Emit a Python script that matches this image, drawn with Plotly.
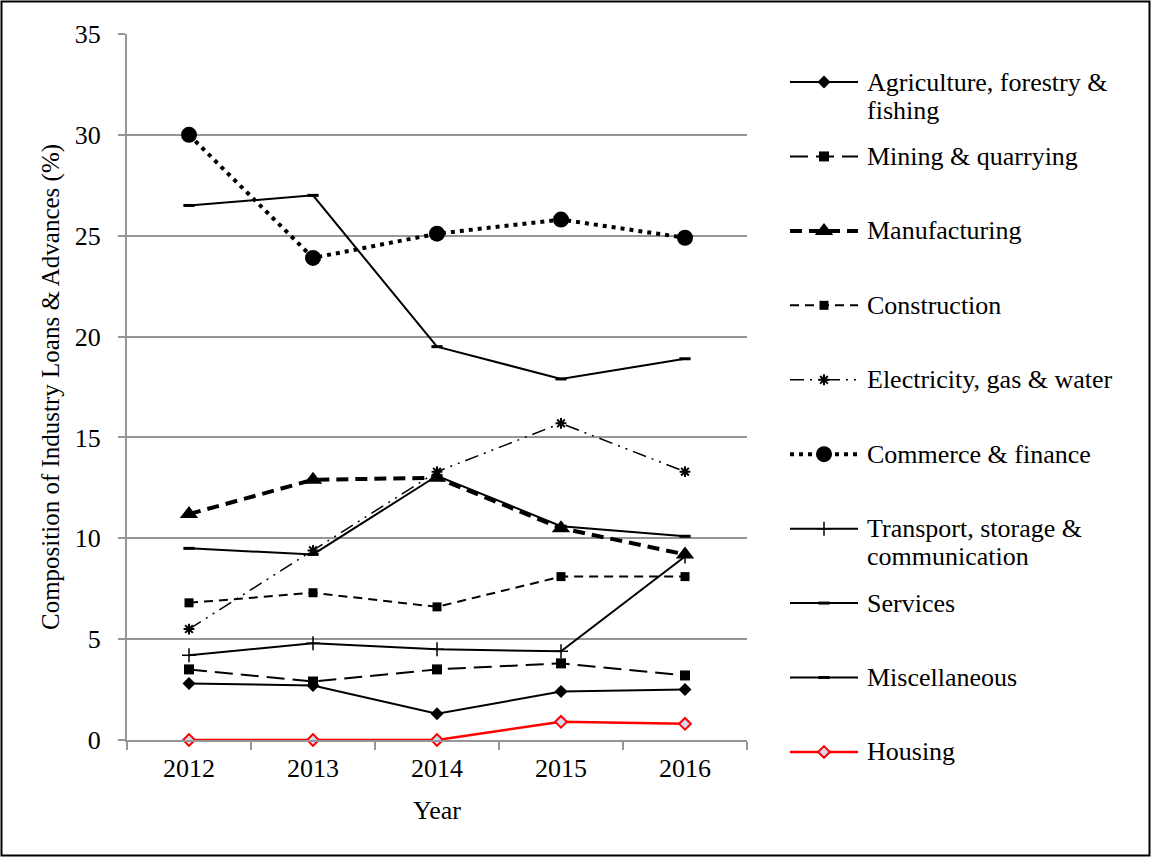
import plotly.graph_objects as go

# ---- data -------------------------------------------------------------
years = ["2012", "2013", "2014", "2015", "2016"]

agriculture = [2.8, 2.7, 1.3, 2.4, 2.5]
mining = [3.5, 2.9, 3.5, 3.8, 3.2]
manufacturing = [11.2, 12.9, 13.0, 10.5, 9.2]
construction = [6.8, 7.3, 6.6, 8.1, 8.1]
electricity = [5.5, 9.4, 13.3, 15.7, 13.3]
commerce = [30.0, 23.9, 25.1, 25.8, 24.9]
transport = [4.2, 4.8, 4.5, 4.4, 9.1]
services = [26.5, 27.0, 19.5, 17.9, 18.9]
miscellaneous = [9.5, 9.2, 13.1, 10.6, 10.1]
housing = [0.0, 0.0, 0.0, 0.9, 0.8]

series_names = [
    "Agriculture, forestry &<br>fishing",
    "Mining & quarrying",
    "Manufacturing",
    "Construction",
    "Electricity, gas & water",
    "Commerce & finance",
    "Transport, storage &<br>communication",
    "Services",
    "Miscellaneous",
    "Housing",
]
series_values = [agriculture, mining, manufacturing, construction, electricity,
                 commerce, transport, services, miscellaneous, housing]

y_ticks = [0, 5, 10, 15, 20, 25, 30, 35]

# ---- styles -----------------------------------------------------------
BLACK = "#000000"
RED = "#ff0000"
styles = [
    dict(line=dict(color=BLACK, width=2), marker=dict(symbol="diamond", size=10, color=BLACK)),
    dict(line=dict(color=BLACK, width=2, dash="18px,8px"), marker=dict(symbol="square", size=10, color=BLACK)),
    dict(line=dict(color=BLACK, width=4, dash="12px,7px"), marker=dict(symbol="triangle-up", size=16, color=BLACK)),
    dict(line=dict(color=BLACK, width=2, dash="9px,6px"), marker=dict(symbol="square", size=9, color=BLACK)),
    dict(line=dict(color=BLACK, width=1.5, dash="14px,6px,2px,6px,2px,6px"),
         marker=dict(symbol="asterisk-open", size=9, color=BLACK, line=dict(color=BLACK, width=2))),
    dict(line=dict(color=BLACK, width=4, dash="4px,5px"), marker=dict(symbol="circle", size=16, color=BLACK)),
    dict(line=dict(color=BLACK, width=2),
         marker=dict(symbol="cross-thin-open", size=10, color=BLACK, line=dict(color=BLACK, width=1.5))),
    dict(line=dict(color=BLACK, width=2),
         marker=dict(symbol="line-ew-open", size=8, color=BLACK, line=dict(color=BLACK, width=3))),
    dict(line=dict(color=BLACK, width=2),
         marker=dict(symbol="line-ew-open", size=8, color=BLACK, line=dict(color=BLACK, width=3))),
    dict(line=dict(color=RED, width=2.5),
         marker=dict(symbol="diamond", size=9, color="#d8d8f0", line=dict(color=RED, width=2))),
]

FONT = "Liberation Serif, Times New Roman, serif"
GRID = "#969696"
W, H = 1151, 857

fig = go.Figure()

# ---- data series ------------------------------------------------------
for name, vals, st in zip(series_names, series_values, styles):
    fig.add_trace(go.Scatter(
        x=years, y=vals, mode="lines+markers", name=name.replace("<br>", " "),
        line=st["line"], marker=st["marker"], cliponaxis=False, showlegend=False,
        xaxis="x", yaxis="y",
    ))

# ---- legend (samples drawn on a helper axis, one slot per series) -------
for i, (name, st) in enumerate(zip(series_names, styles)):
    fig.add_trace(go.Scatter(
        x=[0, 1], y=[i, i], mode="lines", line=st["line"], showlegend=False,
        hoverinfo="skip", xaxis="x2", yaxis="y2", cliponaxis=False,
    ))
    fig.add_trace(go.Scatter(
        x=[0.5], y=[i], mode="markers", marker=st["marker"], showlegend=False,
        hoverinfo="skip", xaxis="x2", yaxis="y2", cliponaxis=False,
    ))
    for k, line_text in enumerate(name.split("<br>")):
        fig.add_annotation(
            x=1, y=i, xref="x2", yref="y2", text=line_text, showarrow=False,
            xanchor="left", yanchor="middle", xshift=7, yshift=-28 * k,
            font=dict(family=FONT, size=26, color=BLACK),
        )

# ---- axis titles --------------------------------------------------------
fig.add_annotation(
    x=51 / W, y=1 - 387 / H, xref="paper", yref="paper",
    text="Composition of Industry Loans & Advances (%)", textangle=-90,
    showarrow=False, xanchor="center", yanchor="middle",
    font=dict(family=FONT, size=25, color=BLACK),
)
fig.add_annotation(
    x=437 / W, y=1 - 810 / H, xref="paper", yref="paper", text="Year",
    showarrow=False, xanchor="center", yanchor="middle",
    font=dict(family=FONT, size=26, color=BLACK),
)

# ---- outer frame ----------------------------------------------------------
fig.add_shape(
    type="rect", xref="paper", yref="paper",
    x0=1.5 / W, x1=1 - 1.5 / W, y0=1.5 / H, y1=1 - 1.5 / H,
    line=dict(color=BLACK, width=2), fillcolor="rgba(0,0,0,0)", layer="below",
)

legend_top, legend_step = 82, 74.44

fig.update_layout(
    width=W, height=H,
    margin=dict(l=0, r=0, t=0, b=0, pad=0, autoexpand=False),
    paper_bgcolor="white", plot_bgcolor="white",
    font=dict(family=FONT, color=BLACK),
    xaxis=dict(
        domain=[127 / W, 747 / W], type="category", range=[-0.5, 4.5],
        tickson="boundaries", ticks="outside", ticklen=8, tickwidth=2, tickcolor=GRID,
        showline=True, linecolor=GRID, linewidth=2, showgrid=False, zeroline=False,
        tickfont=dict(family=FONT, size=26, color=BLACK), ticklabelstandoff=4,
        anchor="y", automargin=False,
    ),
    yaxis=dict(
        domain=[1 - 740 / H, 1 - 34 / H], range=[0, 35], tickvals=y_ticks,
        ticks="outside", ticklen=7, tickwidth=2, tickcolor=GRID,
        showline=True, linecolor=GRID, linewidth=2,
        showgrid=True, gridcolor=GRID, gridwidth=2, zeroline=False,
        tickfont=dict(family=FONT, size=26, color=BLACK), ticklabelstandoff=12,
        anchor="x", automargin=False,
    ),
    xaxis2=dict(domain=[790 / W, 858 / W], range=[0, 1], visible=False,
                anchor="y2", automargin=False),
    yaxis2=dict(
        domain=[0, 1], visible=False, anchor="x2", automargin=False,
        range=[(H - legend_top) / legend_step, -legend_top / legend_step],
    ),
    showlegend=False,
)

fig.write_html("out.html")
